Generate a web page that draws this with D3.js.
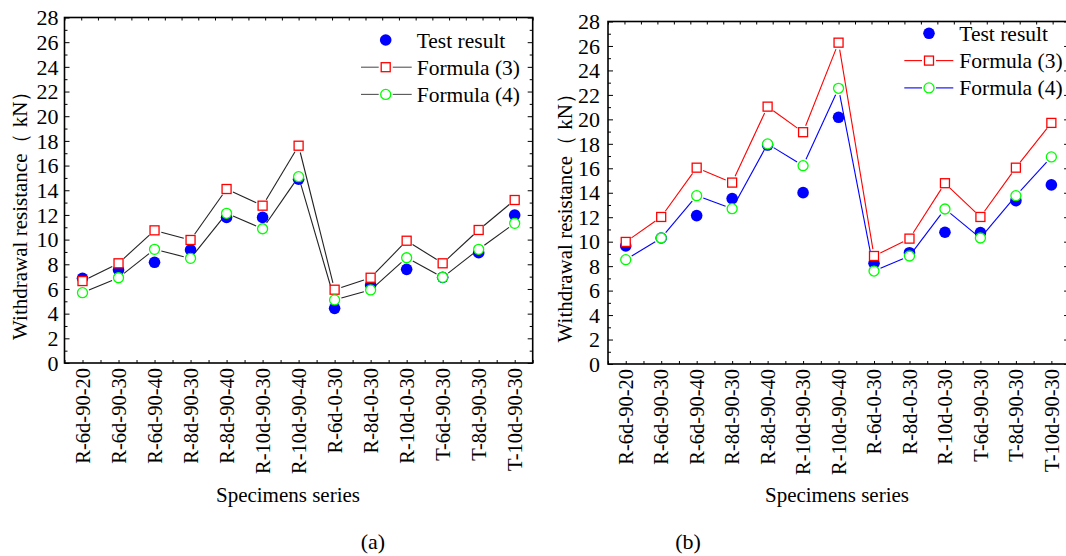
<!DOCTYPE html>
<html>
<head>
<meta charset="utf-8">
<script src="https://cdn.jsdelivr.net/npm/d3@7"></script>
<style>
  html, body { margin: 0; padding: 0; background: #fff; }
</style>
</head>
<body>
<svg id="chart" width="1066" height="556"></svg>
<script>
const categories = ["R-6d-90-20","R-6d-90-30","R-6d-90-40","R-8d-90-30","R-8d-90-40","R-10d-90-30","R-10d-90-40","R-6d-0-30","R-8d-0-30","R-10d-0-30","T-6d-90-30","T-8d-90-30","T-10d-90-30"];
const yTicks = [0,2,4,6,8,10,12,14,16,18,20,22,24,26,28];

const testA = [6.86, 7.54, 8.16, 9.16, 11.8, 11.8, 14.89, 4.43, 6.32, 7.59, 6.94, 8.94, 11.99];
const formula3A = [6.64, 8.08, 10.75, 9.97, 14.1, 12.75, 17.61, 5.94, 6.91, 9.91, 8.08, 10.78, 13.21];
const formula4A = [5.70, 6.91, 9.21, 8.48, 12.13, 10.88, 15.1, 5.11, 5.92, 8.53, 6.94, 9.21, 11.32];

const testB = [9.65, 10.3, 12.13, 13.52, 17.9, 14.01, 20.17, 8.23, 9.10, 10.77, 10.74, 13.35, 14.64];
const formula3B = [9.98, 12.02, 16.05, 14.83, 21.04, 18.95, 26.27, 8.83, 10.25, 14.78, 12.02, 16.05, 19.71];
const formula4B = [8.53, 10.30, 13.76, 12.70, 17.99, 16.21, 22.54, 7.60, 8.83, 12.67, 10.30, 13.76, 16.93];

const seriesNames = ["Test result", "Formula (3)", "Formula (4)"];

const FONT = "Liberation Serif";
const svg = d3.select("#chart");

function drawPanel(cfg) {
  const g = svg.append("g");
  const x = d3.scalePoint().domain(categories).range([cfg.left, cfg.right]).padding(0.5);
  const y = d3.scaleLinear().domain([0, 28]).range([cfg.bottom, cfg.top]);

  // frame
  g.append("rect").attr("x", cfg.left).attr("y", cfg.top)
    .attr("width", cfg.right - cfg.left).attr("height", cfg.bottom - cfg.top)
    .attr("fill", "none").attr("stroke", "#000").attr("stroke-width", 1.6);

  // left y axis ticks inward
  g.append("g").attr("transform", `translate(${cfg.left},0)`).call(d3.axisRight(y).tickValues(yTicks).tickSize(5).tickFormat(""));
  g.append("g").attr("transform", `translate(${cfg.left},0)`).call(d3.axisRight(y).tickValues(d3.range(1, 28, 2)).tickSize(3).tickFormat(""));
  // right ticks inward
  g.append("g").attr("transform", `translate(${cfg.right},0)`).call(d3.axisLeft(y).tickValues(yTicks).tickSize(5).tickFormat(""));
  g.append("g").attr("transform", `translate(${cfg.right},0)`).call(d3.axisLeft(y).tickValues(d3.range(1, 28, 2)).tickSize(3).tickFormat(""));
  // bottom ticks inward
  const xb = d3.scaleLinear().domain([0, 26]).range([cfg.left, cfg.right]);
  g.append("g").attr("transform", `translate(0,${cfg.bottom})`).call(d3.axisTop(xb).ticks(26).tickSize(3).tickFormat(""));
  // top ticks inward
  const xt = d3.scaleLinear().domain([0, 28]).range([cfg.left, cfg.right]);
  g.append("g").attr("transform", `translate(0,${cfg.top})`).call(d3.axisBottom(xt).ticks(28).tickSize(3).tickFormat(""));
  g.selectAll(".domain").remove();
  g.selectAll(".tick line").attr("stroke", "#000").attr("stroke-width", 1);

  // y tick labels
  g.selectAll("text.ylab").data(yTicks).join("text")
    .attr("class", "ylab").attr("font-family", FONT)
    .attr("x", cfg.left - cfg.labelGap).attr("y", d => y(d)).attr("dy", "0.35em")
    .attr("text-anchor", "end").attr("font-size", 22).attr("fill", "#000")
    .text(d => d);

  // category labels
  g.selectAll("text.xlab").data(categories).join("text")
    .attr("class", "xlab").attr("font-family", FONT)
    .attr("transform", d => `translate(${x(d)},${cfg.bottom + 5}) rotate(-90)`)
    .attr("dy", "0.35em").attr("text-anchor", "end")
    .attr("font-size", 20.5).attr("fill", "#000")
    .text(d => d);

  // axis titles
  g.append("text").attr("font-family", FONT)
    .attr("transform", `translate(${cfg.ytitleX},${(cfg.top + cfg.bottom) / 2 + 20}) rotate(-90)`)
    .attr("text-anchor", "middle").attr("font-size", 21).attr("fill", "#000")
    .text("Withdrawal resistance（ kN）");
  g.append("text").attr("font-family", FONT).attr("x", cfg.xtitleX).attr("y", 502)
    .attr("text-anchor", "middle").attr("font-size", 21).attr("fill", "#000")
    .text("Specimens series");
  g.append("text").attr("font-family", FONT).attr("x", cfg.panelX).attr("y", 549)
    .attr("text-anchor", "middle").attr("font-size", 22).attr("fill", "#000")
    .text(cfg.panelLabel);

  // lines with gaps at markers
  const gap = 7;
  function drawSegments(vals, color) {
    const pts = vals.map((v, i) => [x(categories[i]), y(v)]);
    const segs = d3.pairs(pts).map(([a, b]) => {
      const dx = b[0] - a[0], dy = b[1] - a[1];
      const len = Math.hypot(dx, dy);
      const ux = dx / len, uy = dy / len;
      return [[a[0] + ux * gap, a[1] + uy * gap], [b[0] - ux * gap, b[1] - uy * gap]];
    });
    g.selectAll(null).data(segs).join("line")
      .attr("x1", d => d[0][0]).attr("y1", d => d[0][1])
      .attr("x2", d => d[1][0]).attr("y2", d => d[1][1])
      .attr("stroke", color).attr("stroke-width", 1.1);
  }
  drawSegments(cfg.f3, cfg.line3);
  drawSegments(cfg.f4, cfg.line4);

  // test dots
  g.selectAll(null).data(cfg.test).join("circle")
    .attr("cx", (d, i) => x(categories[i])).attr("cy", d => y(d))
    .attr("r", 5.8).attr("fill", "#0000ff");
  // formula 3 squares
  g.selectAll(null).data(cfg.f3).join("rect")
    .attr("x", (d, i) => x(categories[i]) - 4.5).attr("y", d => y(d) - 4.5)
    .attr("width", 9).attr("height", 9)
    .attr("fill", "#fff").attr("stroke", "#ff0000").attr("stroke-width", 1.3);
  // formula 4 circles
  g.selectAll(null).data(cfg.f4).join("circle")
    .attr("cx", (d, i) => x(categories[i])).attr("cy", d => y(d))
    .attr("r", 5).attr("fill", "#fff").attr("stroke", "#00ff00").attr("stroke-width", 1.3);

  // legend
  const L = cfg.legend;
  const lg = g.append("g");
  seriesNames.forEach((name, i) => {
    const ly = L.y + i * L.dy;
    if (i === 0) {
      lg.append("circle").attr("cx", L.mx).attr("cy", ly).attr("r", 5.8).attr("fill", "#0000ff");
    } else {
      const col = i === 1 ? cfg.legLine3 : cfg.legLine4;
      lg.append("line").attr("x1", L.x0).attr("x2", L.mx - 7).attr("y1", ly).attr("y2", ly).attr("stroke", col).attr("stroke-width", 1.1);
      lg.append("line").attr("x1", L.mx + 7).attr("x2", L.x1).attr("y1", ly).attr("y2", ly).attr("stroke", col).attr("stroke-width", 1.1);
      if (i === 1) {
        lg.append("rect").attr("x", L.mx - 4.5).attr("y", ly - 4.5).attr("width", 9).attr("height", 9)
          .attr("fill", "#fff").attr("stroke", "#ff0000").attr("stroke-width", 1.3);
      } else {
        lg.append("circle").attr("cx", L.mx).attr("cy", ly).attr("r", 5)
          .attr("fill", "#fff").attr("stroke", "#00ff00").attr("stroke-width", 1.3);
      }
    }
    lg.append("text").attr("font-family", FONT).attr("x", L.tx).attr("y", ly).attr("dy", "0.35em")
      .attr("font-size", 21.5).attr("fill", "#000").text(name);
  });
}

drawPanel({
  left: 64.5, right: 532.7, top: 17.5, bottom: 363,
  labelGap: 6, ytitleX: 27, xtitleX: 288, panelX: 373, panelLabel: "(a)",
  test: testA, f3: formula3A, f4: formula4A,
  line3: "#222", line4: "#222", legLine3: "#555", legLine4: "#555",
  legend: { x0: 361, x1: 411.7, mx: 385.7, tx: 416.7, y: 40, dy: 27.2 }
});

drawPanel({
  left: 608, right: 1069.1, top: 21.5, bottom: 364,
  labelGap: 8, ytitleX: 572, xtitleX: 837, panelX: 688, panelLabel: "(b)",
  test: testB, f3: formula3B, f4: formula4B,
  line3: "#ff0000", line4: "#0000ff", legLine3: "#ff0000", legLine4: "#0000ff",
  legend: { x0: 904.3, x1: 953.3, mx: 929, tx: 959.3, y: 33.3, dy: 27.3 }
});
</script>
</body>
</html>
